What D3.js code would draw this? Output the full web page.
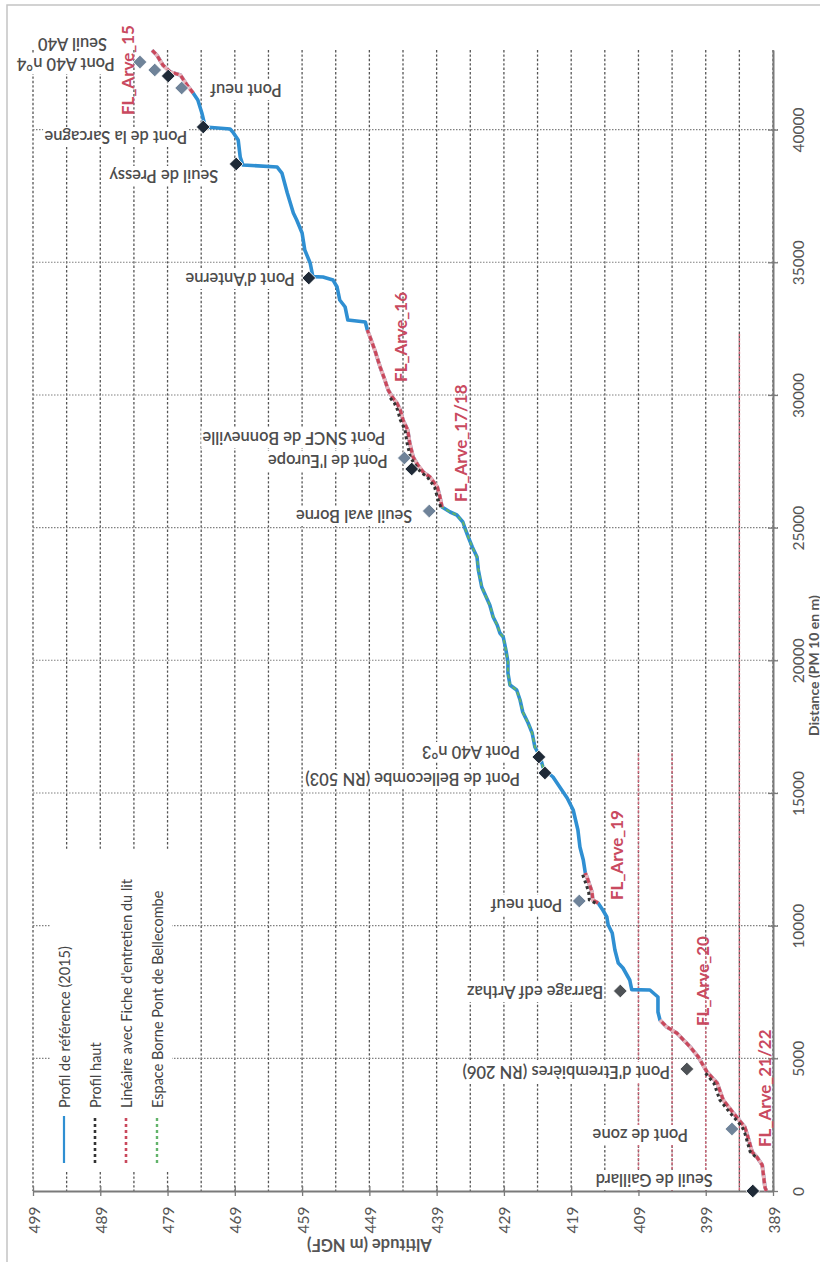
<!DOCTYPE html>
<html>
<head>
<meta charset="utf-8">
<script src="https://cdn.jsdelivr.net/npm/d3@7"></script>
<style>
  body { margin: 0; background: #fff; }
  svg { display: block; }
</style>
</head>
<body>
<svg id="chart" width="820" height="1262"></svg>
<script>
// ---------- Data ----------
// Longitudinal profile of the Arve: [distance PM10 (m), altitude (m NGF)]
const profilReference = [
  [0,390.0],[151,390.2],[980,390.6],[1281,391.4],[1470,392.1],[2186,392.9],[2412,393.2],
  [2940,394.9],[3429,396.4],[4070,397.3],[4485,398.8],[5050,400.1],[5427,401.3],[5954,403.3],
  [6181,404.8],[6444,405.8],[6746,406.1],[7311,406.1],[7575,407.3],[7590,410.0],[7952,410.3],
  [8404,411.3],[8592,412.0],[9082,412.5],[9723,412.9],[10024,413.5],[10326,413.7],[10590,414.3],
  [10854,415.0],[10967,415.8],[11268,415.9],[11720,416.5],[11984,416.9],[12474,417.2],[12964,417.7],
  [13605,418.0],[14358,418.7],[14811,419.6],[15112,420.4],[15602,421.7],[15753,422.4],[15979,423.2],
  [16356,423.6],[16733,424.4],[17260,424.8],[17637,425.4],[18052,426.2],[18504,426.6],[18881,427.1],
  [19069,428.1],[19521,428.4],[19936,428.4],[20388,428.7],[20878,429.1],[21029,429.6],[21330,430.0],
  [21632,430.6],[22084,431.1],[22762,432.3],[23403,432.8],[23893,433.0],[24270,433.7],[24647,434.3],
  [24986,434.8],[25212,435.1],[25476,436.0],[25589,437.0],[25777,438.2],[26154,438.5],[26531,438.9],
  [26908,440.0],[27096,441.0],[27360,441.8],[27661,442.5],[28189,443.0],[28679,443.3],[29056,444.0],
  [29432,444.4],[29696,444.9],[29922,445.6],[30186,446.2],[30638,446.8],[31053,447.4],[31694,448.2],
  [32184,448.9],[32447,449.3],[32749,449.6],[32824,452.2],[33314,452.6],[33578,453.4],[34068,453.8],
  [34331,454.4],[34444,455.9],[34460,457.4],[34972,457.8],[35462,458.6],[36103,459.0],[36593,459.8],
  [36857,460.3],[37610,461.2],[38364,462.0],[38590,462.7],[38666,467.8],[38967,468.2],[39608,468.5],
  [39909,469.3],[40022,469.7],[40097,473.4],[40625,473.9],[41115,474.5],[41379,475.2],[41680,476.1],
  [42057,477.1],[42170,478.6],[42434,479.7],[42811,480.6],[42990,481.3]
];

// "Profil haut" (upper profile), visible stretches
const profilHaut = [
  [[1300,391.6],[1480,392.4],[2190,393.2],[2420,393.6],[2950,395.4],[3430,396.9],[4070,397.8],[4490,399.2]],
  [[10850,415.4],[10970,416.3],[11270,416.4],[11720,417.0],[11990,417.4]],
  [[25780,438.4],[26150,438.9],[26530,439.3],[26910,440.4],[27100,441.4],[27360,442.2],[27660,442.9],
   [28190,443.4],[28680,443.7],[29060,444.4],[29430,444.8],[29700,445.3],[29920,446.0]]
];

// Reaches covered by a "Fiche d'entretien du lit" (distance ranges, m)
const lineaireFiche = [[0,6444],[10854,12000],[25777,32447],[41379,42990]];
// "Espace Borne – Pont de Bellecombe" reach (distance range, m)
const espaceBorne = [[15753,25777]];

// Named structures along the river
const repereNoms = [
  "Seuil de Gaillard","Pont de zone","Pont d'Etrembières (RN 206)","Barrage edf Arthaz","Pont neuf",
  "Pont de Bellecombe (RN 503)","Pont A40 n°3","Seuil aval Borne","Pont de l'Europe",
  "Pont SNCF de Bonneville","Pont d'Anterne","Seuil de Pressy","Pont de la Sarcagne","Pont neuf","",
  "Pont A40 n°4","Seuil A40"
];
const repereDistance = [0,2337,4598,7537,10929,15753,16356,25626,27209,27624,34407,38704,40098,41568,42020,42246,42547];
const repereAltitude = [392.0,395.1,401.8,411.7,417.8,422.9,423.8,440.1,442.7,443.8,458.0,468.8,473.7,476.9,478.9,480.9,483.1];
const repereGroupe   = [0,2,1,1,2,0,0,2,0,2,0,0,0,2,0,2,2];

// FL section names and where their names sit (distance m, altitude m)
const flNoms = ["FL_Arve_21/22","FL_Arve_20","FL_Arve_19","FL_Arve_17/18","FL_Arve_16","FL_Arve_15"];
const flDistance = [1658,6218,10965,25966,30490,40550];
const flAltitude = [390.2,399.5,412.2,435.5,444.3,484.9];

// Axis ticks
const altitudeTicks = [499,489,479,469,459,449,439,429,419,409,399,389];
const altitudeGrid = d3.range(494, 388, -5);
const distanceTicks = [0,5000,10000,15000,20000,25000,30000,35000,40000];

const legendNoms = [
  "Profil de référence (2015)","Profil haut",
  "Linéaire avec Fiche d'entretien du lit","Espace Borne Pont de Bellecombe"
];

// ---------- Layout ----------
const svg = d3.select("#chart");
const FONT = "Lato, 'Open Sans', 'DejaVu Sans', sans-serif";

// altitude runs right-to-left along the bottom, distance runs up along the right side
const x = d3.scaleLinear().domain([499, 389]).range([33, 773]);
const y = d3.scaleLinear().domain([0, 43000]).range([1191, 50]);

// outer frame
svg.append("rect").attr("x", 7).attr("y", 5).attr("width", 840).attr("height", 1290)
  .attr("fill", "none").attr("stroke", "#c4c4c4").attr("stroke-width", 1.5);

// altitude gridlines (every 5 m)
svg.append("g").selectAll("line").data(altitudeGrid.concat([499])).join("line")
  .attr("x1", d => x(d)).attr("x2", d => x(d))
  .attr("y1", y(43000)).attr("y2", y(0))
  .attr("stroke", "#555").attr("stroke-width", 1.3).attr("stroke-dasharray", "2.4,2");

// reddish tint on some lower gridlines
const tint = [[394, 0, 32300], [404, 0, 16500], [409, 0, 16500], [399, 0, 9000]];
svg.append("g").selectAll("line").data(tint).join("line")
  .attr("x1", d => x(d[0])).attr("x2", d => x(d[0]))
  .attr("y1", d => y(d[2])).attr("y2", d => y(d[1]))
  .attr("stroke", "#cf6477").attr("stroke-width", 1.5).attr("stroke-dasharray", "2.4,2");

// distance gridlines (every 5 km)
svg.append("g").selectAll("line").data(distanceTicks.slice(1)).join("line")
  .attr("x1", x(499)).attr("x2", x(389) + 5)
  .attr("y1", d => y(d)).attr("y2", d => y(d))
  .attr("stroke", "#808080").attr("stroke-width", 1.1).attr("stroke-dasharray", "1.5,1.5");

// axes
const axisColor = "#7a7a7a";
const gAlt = svg.append("g").attr("transform", `translate(0,${y(0)})`)
  .call(d3.axisBottom(x).tickValues(altitudeTicks).tickSizeInner(5).tickSizeOuter(0).tickFormat(d3.format("d")));
const gDist = svg.append("g").attr("transform", `translate(${x(389)},0)`)
  .call(d3.axisRight(y).tickValues(distanceTicks).tickSizeInner(5).tickSizeOuter(0).tickFormat(d3.format("d")));
[gAlt, gDist].forEach(g => {
  g.select(".domain").attr("stroke", axisColor).attr("stroke-width", 2);
  g.selectAll(".tick line").attr("stroke", axisColor).attr("stroke-width", 1.3);
  g.selectAll(".tick text").attr("fill", "#555").style("font-family", FONT).style("font-size", "15.5px")
    .attr("text-anchor", "middle").attr("dominant-baseline", "central").attr("dy", null);
});
gAlt.selectAll(".tick line").attr("y1", -5).attr("y2", 5);
gAlt.selectAll(".tick text").attr("x", 0).attr("y", 0).attr("transform", "translate(0,29) rotate(-90)");
gDist.selectAll(".tick line").attr("x1", -5).attr("x2", 5);
gDist.selectAll(".tick text").attr("x", 0).attr("y", 0).attr("transform", "translate(25,0) rotate(-90)");

// axis titles
svg.append("text").text("Altitude (m NGF)")
  .attr("transform", `translate(${x(449)},1245) rotate(180)`)
  .attr("text-anchor", "middle").attr("dominant-baseline", "central")
  .attr("fill", "#555").style("font-family", FONT).style("font-size", "16.5px").style("font-weight", "bold");
svg.append("text").text("Distance (PM 10 en m)")
  .attr("transform", `translate(813,${y(19800)}) rotate(-90)`)
  .attr("text-anchor", "middle").attr("dominant-baseline", "central")
  .attr("fill", "#555").style("font-family", FONT).style("font-size", "14px").style("font-weight", "bold");

// ---------- Series ----------
const line = d3.line().x(d => x(d[1])).y(d => y(d[0]));
const within = r => profilReference.filter(p => p[0] >= r[0] && p[0] <= r[1]);

const blue = "#2f8fd2", red = "#c9485c", green = "#62b36a", dark = "#333";

svg.append("path").datum(profilReference).attr("d", line)
  .attr("fill", "none").attr("stroke", blue).attr("stroke-width", 3.6).attr("stroke-linejoin", "round");

svg.append("g").selectAll("path").data(espaceBorne.map(within)).join("path").attr("d", line)
  .attr("fill", "none").attr("stroke", green).attr("stroke-width", 2).attr("stroke-dasharray", "4,3");

svg.append("g").selectAll("path").data(lineaireFiche.map(within)).join("path").attr("d", line)
  .attr("fill", "none").attr("stroke", "#eab3bb").attr("stroke-width", 3.8).attr("stroke-linejoin", "round");
svg.append("g").selectAll("path").data(lineaireFiche.map(within)).join("path").attr("d", line)
  .attr("fill", "none").attr("stroke", red).attr("stroke-width", 3.2).attr("stroke-dasharray", "5,3");

svg.append("g").selectAll("path").data(profilHaut).join("path").attr("d", line)
  .attr("fill", "none").attr("stroke", dark).attr("stroke-width", 3).attr("stroke-dasharray", "3,3");

// ---------- Structures ----------
const markerColors = ["#1f2a37", "#4e5256", "#6f8399"];
const reperes = repereNoms.map((n, i) => ({ nom: n, d: repereDistance[i], a: repereAltitude[i], g: repereGroupe[i] }));

// label placement relative to each marker (px)
const labelNudge = [[-40,-11],[-44,6],[-17,3],[-17,1],[-17,4],[-25,6],[-19,-5],[-17,5],[-24,-8],[-19,-20],
                    [-14,1],[-18,12],[-16,10],[100,2],[0,0],[-40,-6],[-33,-18]];

const lab = svg.append("g").selectAll("g").data(reperes.filter(r => r.nom)).join("g")
  .attr("transform", r => {
    const k = reperes.indexOf(r);
    return `translate(${x(r.a) + labelNudge[k][0]},${y(r.d) + labelNudge[k][1]}) rotate(180)`;
  });
lab.append("text").text(r => r.nom)
  .attr("text-anchor", "start").attr("dominant-baseline", "central")
  .attr("fill", "#4d4d4d").style("font-family", FONT).style("font-size", "16.5px").style("font-weight", "600");
lab.each(function () {
  const t = d3.select(this).select("text").node().getBBox();
  d3.select(this).insert("rect", "text").attr("x", t.x - 1).attr("y", t.y).attr("width", t.width + 2)
    .attr("height", t.height).attr("fill", "#fff");
});

svg.append("g").selectAll("path").data(reperes).join("path")
  .attr("d", d3.symbol(d3.symbolDiamond2, 120))
  .attr("transform", r => `translate(${x(r.a)},${y(r.d)})`)
  .attr("fill", r => markerColors[r.g]).attr("stroke", "#fff").attr("stroke-width", 0.8);

// FL section names
svg.append("g").selectAll("text").data(flNoms).join("text").text(d => d)
  .attr("transform", (d, i) => `translate(${x(flAltitude[i])},${y(flDistance[i])}) rotate(-90)`)
  .attr("text-anchor", "start").attr("dominant-baseline", "central")
  .attr("fill", "#c94a5f").style("font-family", FONT).style("font-size", "17px").style("font-weight", "bold");

// ---------- Legend ----------
const legX = [64, 95, 126, 157];
const legend = svg.append("g");
legend.append("rect").attr("x", 50).attr("y", 850).attr("width", 122).attr("height", 320).attr("fill", "#fff");
const legStyles = [
  { c: blue, w: 2.2, dash: null },
  { c: dark, w: 2.6, dash: "3,3" },
  { c: red, w: 2.6, dash: "3,3" },
  { c: green, w: 2.4, dash: "3,3" }
];
legendNoms.forEach((n, i) => {
  const s = legStyles[i];
  legend.append("line").attr("x1", legX[i]).attr("x2", legX[i]).attr("y1", 1163).attr("y2", 1116)
    .attr("stroke", s.c).attr("stroke-width", s.w).attr("stroke-dasharray", s.dash);
  legend.append("text").text(n)
    .attr("transform", `translate(${legX[i]},1108) rotate(-90)`)
    .attr("text-anchor", "start").attr("dominant-baseline", "central")
    .attr("fill", "#444").style("font-family", FONT).style("font-size", "14.5px");
});
</script>
</body>
</html>
